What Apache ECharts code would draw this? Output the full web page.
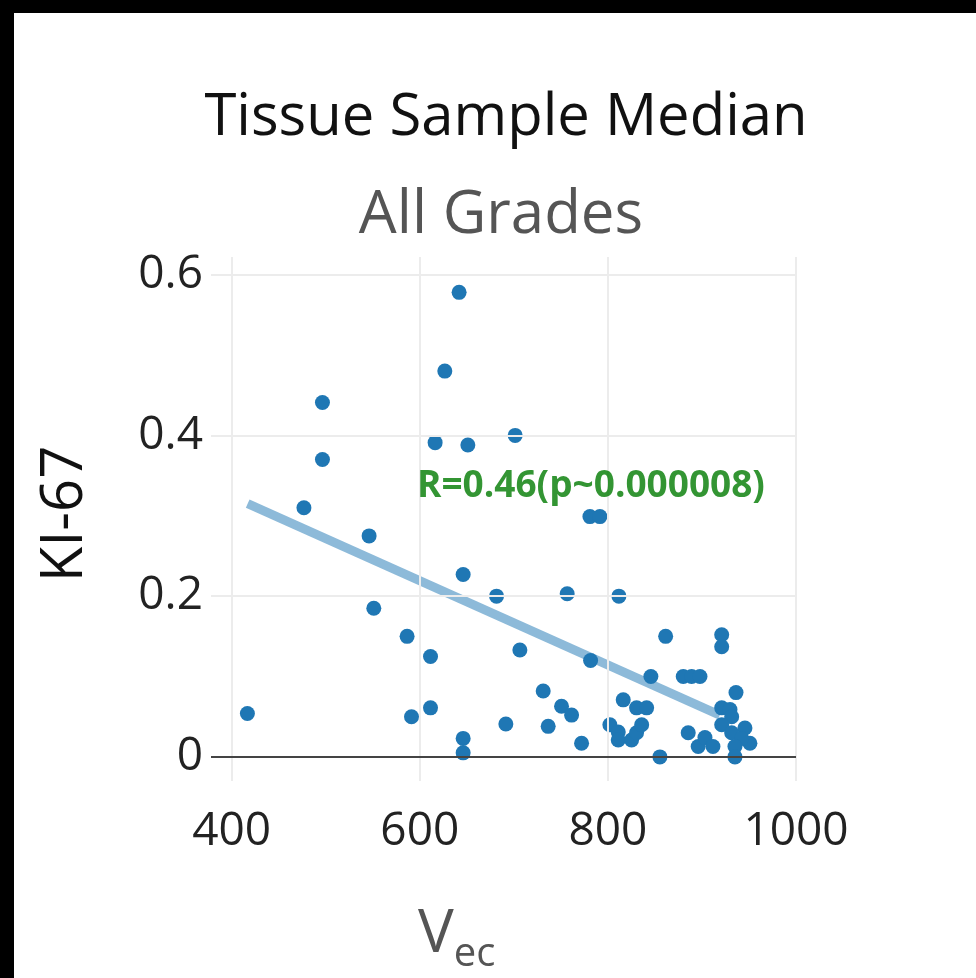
<!DOCTYPE html>
<html>
<head>
<meta charset="utf-8">
<script src="https://cdn.jsdelivr.net/npm/echarts@6/dist/echarts.min.js"></script>
<style>
html,body{margin:0;padding:0;background:#000;width:976px;height:978px;overflow:hidden;}
#chart{position:absolute;left:14px;top:13px;width:962px;height:965px;background:#fff;}
</style>
</head>
<body>
<div id="chart"></div>
<script>
// Data (Vec vs KI-67)
const vecValues = [416.7,476.8,496.5,496.5,546.1,551.1,586.5,591.2,611.4,611.4,616.3,626.6,641.8,646.1,646.1,646.1,651.1,681.6,691.5,701.4,706.4,731.2,736.5,750.7,756.7,761.4,772,780.9,791.5,781.6,811.7,802.1,811,811,816.3,825.2,830.5,835.9,830.5,841.2,845.7,855.3,861.4,880.1,889,897.9,885.4,896,903.2,911.7,921,921,921,929.8,931.6,921,936.2,945.7,931.6,951,942.2,935.1,935.1];
const ki67Values = [0.054,0.310,0.441,0.370,0.275,0.185,0.150,0.050,0.125,0.061,0.391,0.480,0.578,0.227,0.023,0.005,0.388,0.200,0.041,0.400,0.133,0.082,0.038,0.063,0.203,0.052,0.017,0.299,0.299,0.120,0.200,0.040,0.031,0.021,0.071,0.021,0.030,0.040,0.061,0.061,0.100,0.000,0.150,0.100,0.100,0.100,0.030,0.013,0.024,0.013,0.152,0.137,0.061,0.059,0.050,0.040,0.080,0.036,0.030,0.017,0.023,0.013,0.000];
const fitX = [417, 919];
const fitY = [0.315, 0.052];
const xTicks = [400, 600, 800, 1000];
const xTickLabels = ['400', '600', '800', '1000'];
const yTicks = [0, 0.2, 0.4, 0.6];
const yTickLabels = ['0', '0.2', '0.4', '0.6'];
const annotationPos = [782, 0.336];
const annotationText = 'R=0.46(p~0.000008)';
const titleText = 'Tissue Sample Median';
const subtitleText = 'All Grades';
const yAxisTitle = 'KI-67';

const chart = echarts.init(document.getElementById('chart'), null, {renderer: 'canvas'});
const FONT = '"Open Sans", "Noto Sans", sans-serif';

const points = vecValues.map((v, i) => [v, ki67Values[i]]);
const fitLine = fitX.map((v, i) => [v, fitY[i]]);

const option = {
  backgroundColor: '#fff',
  animation: false,
  grid: {left: 197, right: 180, top: 244, bottom: 197, containLabel: false},
  xAxis: {
    type: 'value', min: 378, max: 1000,
    axisLine: {show: false}, axisTick: {show: false},
    splitLine: {show: false},
    axisLabel: {customValues: xTicks, fontFamily: FONT, fontSize: 46, color: '#222', margin: 28,
      formatter: (v) => { const i = xTicks.indexOf(v); return i >= 0 ? xTickLabels[i] : ''; }}
  },
  yAxis: {
    type: 'value', min: -0.03, max: 0.622,
    axisLine: {show: false}, axisTick: {show: false},
    splitLine: {show: false},
    axisLabel: {customValues: yTicks, fontFamily: FONT, fontSize: 46, color: '#222', margin: 8,
      formatter: (v) => { const i = yTicks.indexOf(v); return i >= 0 ? yTickLabels[i] : ''; }},
    name: yAxisTitle, nameLocation: 'middle', nameGap: 117, nameRotate: 90,
    nameTextStyle: {fontFamily: FONT, fontSize: 58, color: '#111', padding: [0, 0, 0, 10]}
  },
  graphic: [
    {type: 'text', x: 492, y: 105, style: {text: titleText, fontFamily: FONT, fontSize: 58, fill: '#111', textAlign: 'center', textVerticalAlign: 'middle'}},
    {type: 'text', x: 487, y: 203, style: {text: subtitleText, fontFamily: FONT, fontSize: 60, fill: '#555', textAlign: 'center', textVerticalAlign: 'middle'}},
    {type: 'text', x: 404, y: 922, style: {text: '{v|V}{s|ec}', textVerticalAlign: 'middle', rich: {
      v: {fontFamily: FONT, fontSize: 60, fill: '#555', color: '#555'},
      s: {fontFamily: FONT, fontSize: 40, fill: '#555', color: '#555', padding: [40, 0, 0, 0]}
    }}}
  ],
  series: [
    {
      type: 'scatter', data: [], silent: true, z: 1,
      markLine: {
        silent: true, symbol: 'none', label: {show: false},
        lineStyle: {color: '#ececec', width: 2, type: 'solid'},
        data: xTicks.map(v => ({xAxis: v})).concat(yTicks.filter(v => v !== 0).map(v => ({yAxis: v})))
      }
    },
    {
      type: 'scatter', data: [], silent: true, z: 2,
      markLine: {
        silent: true, symbol: 'none', label: {show: false},
        lineStyle: {color: '#444', width: 2, type: 'solid'},
        data: [{yAxis: 0}]
      }
    },
    {
      type: 'line', data: fitLine, showSymbol: false, symbol: 'none', z: 3,
      lineStyle: {color: '#8dbad9', width: 9}
    },
    {
      type: 'scatter', data: points, symbolSize: 15, z: 4,
      itemStyle: {color: '#1f77b4', opacity: 1}
    },
    {
      type: 'scatter', data: [annotationPos], symbolSize: 0, z: 5,
      label: {show: true, position: 'inside', formatter: annotationText,
        fontFamily: FONT, fontWeight: 'bold', fontSize: 37, color: '#007a00'}
    }
  ]
};
chart.setOption(option);
</script>
</body>
</html>
